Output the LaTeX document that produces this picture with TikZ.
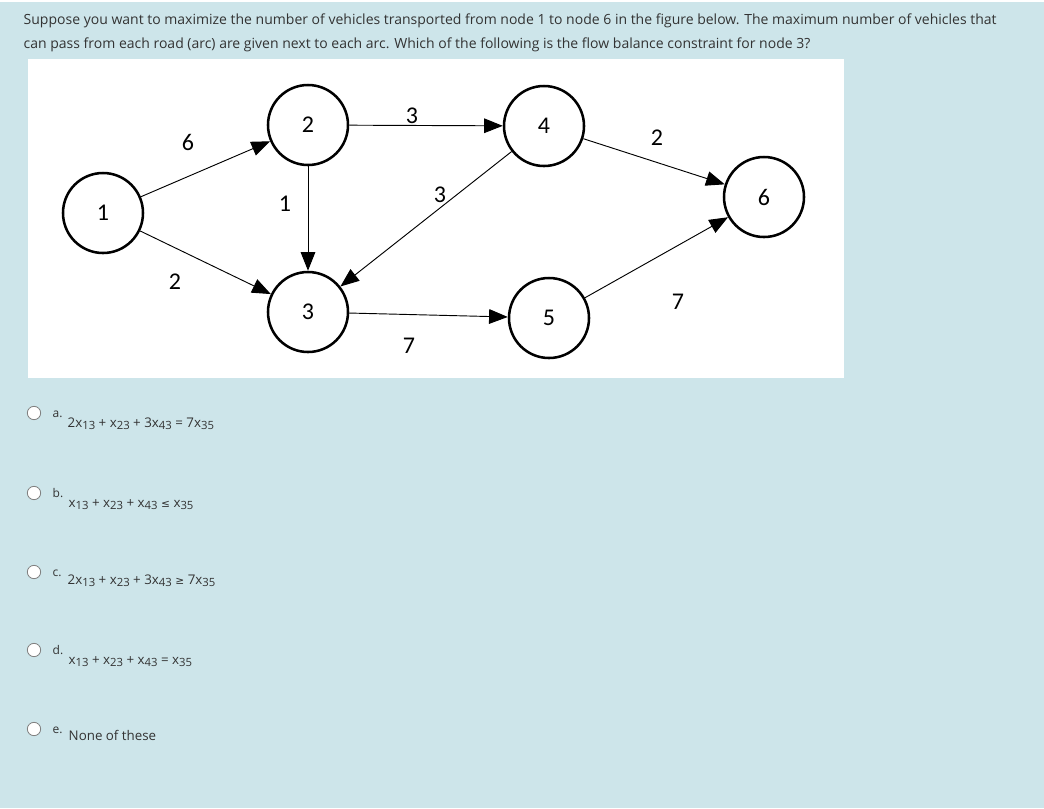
\documentclass[tikz,border=0pt]{standalone}
\usepackage{fontspec}
\setmainfont{Open Sans}
\newfontfamily\numf{Carlito}
\newfontfamily\dvs{DejaVu Sans}
\usetikzlibrary{arrows.meta}
\definecolor{bg}{HTML}{CDE5EA}
\definecolor{txt}{HTML}{333333}
\newcommand{\subs}[1]{\raisebox{-0.35ex}{\fontsize{8.5}{9}\selectfont #1}}
\begin{document}
\begin{tikzpicture}[x=0.75pt,y=-0.75pt,
  vtx/.style={circle,draw,line width=1.9pt,minimum size=60pt,inner sep=0pt,font=\numf\fontsize{18}{18}\selectfont},
  arc/.style={line width=0.7pt,-{Triangle[length=14pt,width=11pt]}},
  lab/.style={font=\numf\fontsize{18}{18}\selectfont},
  q/.style={anchor=base west,font=\fontsize{10.5}{13}\selectfont,text=txt},
  eq/.style={anchor=base west,font=\fontsize{10}{12}\selectfont,text=txt},
  let/.style={anchor=base west,font=\fontsize{9}{11}\selectfont,text=txt},
  radio/.style={circle,draw=gray,fill=white,line width=0.6pt,minimum size=10pt,inner sep=0pt}]
\fill[bg] (0,0) rectangle (1044,808);
\fill[white] (0,0) rectangle (1044,2);
\fill[white] (28,59) rectangle (844,378);
\node[q] (t1) at (19,24) {Suppose you want to maximize the number of vehicles transported from node 1 to node 6 in the figure below. The maximum number of vehicles that};
\node[q] (t2) at (19,48) {can pass from each road (arc) are given next to each arc. Which of the following is the flow balance constraint for node 3?};
\node[vtx] (n1) at (103,213) {1};
\node[vtx] (n2) at (308,125) {2};
\node[vtx] (n3) at (308,312) {3};
\node[vtx] (n4) at (544,126) {4};
\node[vtx] (n5) at (549,318) {5};
\node[vtx] (n6) at (764,197) {6};
\draw[arc] (n1) -- (n2);
\draw[arc] (n1) -- (n3);
\draw[arc] (n2) -- (n3);
\draw[arc] (n2) -- (n4);
\draw[arc] (n4) -- (n3);
\draw[arc] (n3) -- (n5);
\draw[arc] (n4) -- (n6);
\draw[arc] (n5) -- (n6);
\node[lab] (l1) at (188,142) {6};
\node[lab] (l2) at (175,282) {2};
\node[lab] (l3) at (285,204) {1};
\node[lab] (l4) at (412,116) {3};
\node[lab] (l5) at (440,195) {3};
\node[lab] (l6) at (657,138) {2};
\node[lab] (l7) at (409,346) {7};
\node[lab] (l8) at (678,302) {7};
\node[radio] (ra) at (34,413) {};
\node[radio] (rb) at (34,493) {};
\node[radio] (rc) at (34,572) {};
\node[radio] (rd) at (34,650) {};
\node[radio] (re) at (34,729) {};
\node[let] (la) at (48,417) {a.};
\node[let] (lb) at (48,497) {b.};
\node[let] (lc) at (48,576) {c.};
\node[let] (ld) at (48,654) {d.};
\node[let] (le) at (48,733) {e.};
\node[eq] (ea) at (63,427) {2x\subs{13} + x\subs{23} + 3x\subs{43} = 7x\subs{35}};
\node[eq] (eb) at (64,507) {x\subs{13} + x\subs{23} + x\subs{43} {\dvs\fontsize{8}{9}\selectfont ≤} x\subs{35}};
\node[eq] (ec) at (63,584) {2x\subs{13} + x\subs{23} + 3x\subs{43} {\dvs\fontsize{8}{9}\selectfont ≥} 7x\subs{35}};
\node[eq] (ed) at (64,664) {x\subs{13} + x\subs{23} + x\subs{43} = x\subs{35}};
\node[eq] (ee) at (64,740) {None of these};
\end{tikzpicture}
\end{document}
